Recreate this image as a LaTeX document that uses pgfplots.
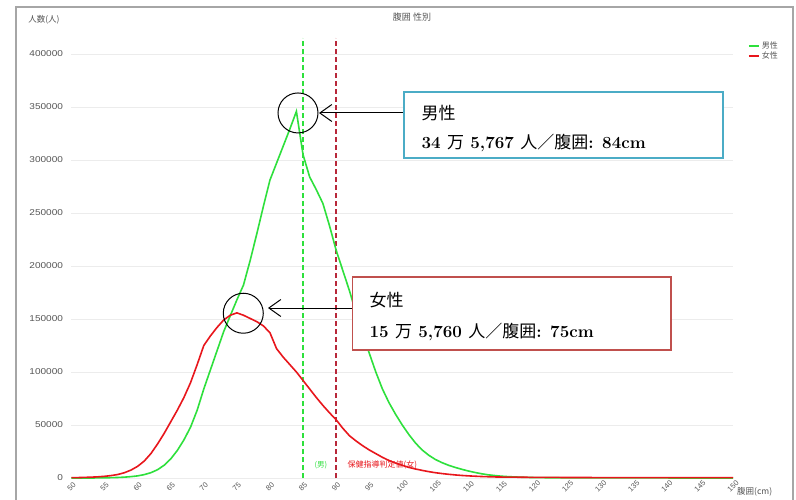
\documentclass[border=0pt]{standalone}
\usepackage{pgfplots}
\pgfplotsset{compat=1.18}
\usepackage{fontspec}
\usetikzlibrary{arrows.meta}
\newfontfamily\cjk{Noto Sans CJK JP}
\newfontfamily\sans[FakeStretch=1.18]{Liberation Sans}
\newfontfamily\sanx{Liberation Sans}
\definecolor{mgreen}{HTML}{2EE03C}
\definecolor{fred}{HTML}{E8161C}
\definecolor{dred}{HTML}{B8283A}
\definecolor{boxblue}{HTML}{4BACC6}
\definecolor{boxred}{HTML}{C0504D}
\definecolor{txtgray}{HTML}{555555}

\pgfplotstableread{
x m
50 0
51 0
52 0
53 0
54 100
55 200
56 300
57 500
58 800
59 1300
60 2000
61 3200
62 5000
63 7800
64 12000
65 18000
66 26000
67 36000
68 48000
69 64000
70 84000
71 102000
72 120000
73 138000
74 153000
75 168000
76 182000
77 205000
78 230000
79 256000
80 281000
81 297000
82 313000
83 329000
84 345767
85 305000
86 284000
87 272000
88 259000
89 238000
90 215000
91 196000
92 177000
93 156000
94 137000
95 118000
96 100000
97 84000
98 71000
99 60000
100 50000
101 41000
102 33000
103 26500
104 21500
105 17500
106 14500
107 12000
108 10000
109 8200
110 6600
111 5200
112 4000
113 3000
114 2300
115 1700
116 1300
117 1000
118 750
119 550
120 400
122 250
125 150
130 100
140 50
150 30
}\male

\pgfplotstableread{
x f
50 300
51 400
52 600
53 800
54 1100
55 1600
56 2300
57 3300
58 5000
59 7500
60 11000
61 16000
62 23000
63 32000
64 42000
65 53000
66 64000
67 76000
68 90000
69 107000
70 125000
71 134000
72 142000
73 149000
74 153500
75 155760
76 153500
77 150500
78 147500
79 143500
80 137000
81 122000
82 114000
83 107000
84 100000
85 92000
86 84000
87 76000
88 68500
89 61500
90 55000
91 47000
92 40000
93 35000
94 30500
95 26500
96 23000
97 19500
98 16500
99 14000
100 12000
101 10000
102 8500
103 7200
104 6000
105 5000
106 4200
107 3500
108 2900
109 2400
110 2000
111 1700
112 1400
113 1200
114 1000
115 900
120 600
130 400
140 300
150 300
}\female

\begin{document}
\begin{tikzpicture}[x=1pt,y=1pt]
\useasboundingbox (0,0) rectangle (796,499);
\fill[white] (0,0) rectangle (796,499);
\draw[gray!70, line width=1.2pt] (16,-5) -- (16,492) -- (793,492) -- (793,-5);
\begin{axis}[
 at={(71.5pt,21pt)}, anchor=south west,
 scale only axis, width=661.5pt, height=440pt,
 xmin=50, xmax=150, ymin=0, ymax=415000,
 axis line style={draw=none},
 ymajorgrids, grid style={gray!15, line width=0.8pt},
 xtick={50,55,...,150}, ytick={0,50000,100000,150000,200000,250000,300000,350000,400000},
 major tick length=0pt,
 scaled y ticks=false,
 /pgf/number format/fixed,
 /pgf/number format/precision=0,
 /pgf/number format/1000 sep={},
 /pgf/number format/assume math mode=true,
 yticklabel style={font=\sans\fontsize{8.5}{9}\selectfont, text=txtgray, xshift=-5pt},
 xticklabel style={font=\sanx\fontsize{7.5}{8}\selectfont, text=txtgray, anchor=center, yshift=-8.5pt, rotate=45, inner sep=0pt},
 clip=false,
 legend style={at={(1.022,0.997)}, anchor=north west, draw=none, fill=none, font=\cjk\fontsize{8}{9}\selectfont, text=txtgray, row sep=-2pt, inner sep=0pt},
 legend cell align=left,
 legend image code/.code={\draw[#1, line width=2pt] (0pt,0pt) -- (10pt,0pt);},
]
\addplot[mgreen, dash pattern=on 5pt off 3pt, line width=1.3pt, forget plot] coordinates {(85,0) (85,415000)};
\addplot[dred, dash pattern=on 5pt off 3pt, line width=1.3pt, forget plot] coordinates {(90,0) (90,415000)};
\addplot[mgreen, line width=1.6pt] table[x=x,y=m] {\male};
\addlegendentry{男性}
\addplot[fred, line width=1.6pt] table[x=x,y=f] {\female};
\addlegendentry{女性}
\node[text=mgreen, font=\cjk\fontsize{7.5}{8}\selectfont] at (axis cs:87.7,12300) {(男)};
\node[text=fred, anchor=west, font=\cjk\fontsize{8}{8}\selectfont] at (axis cs:91.2,12300) {保健指導判定値(女)};
\draw[black, line width=1pt] (axis cs:84.24,344300) circle [radius=20pt];
\draw[black, line width=1pt] (axis cs:75.97,155400) circle [radius=20pt];
\end{axis}
\node[font=\cjk\fontsize{8.5}{9}\selectfont, text=txtgray] at (44,479) {人数(人)};
\node[font=\cjk\fontsize{9}{10}\selectfont, text=txtgray] at (412,482) {腹囲\ 性別};
\node[anchor=west, font=\cjk\fontsize{8.5}{9}\selectfont, text=txtgray, inner sep=0pt] at (737,7) {腹囲(cm)};
% male annotation
\draw[-{Straight Barb[length=12pt,width=17pt]}, line width=1pt] (404,386) -- (319,386);
\draw[boxblue, line width=1.5pt, fill=white] (404,341) rectangle (723,407);
\node[anchor=west, font=\cjk\fontsize{17}{20}\selectfont] at (418,386) {男性};
\node[anchor=west, font=\fontsize{17}{20}\selectfont\bfseries] at (418,356) {34 {\cjk\mdseries 万} 5,767 {\cjk\mdseries 人／腹囲}: 84cm};
% female annotation
\draw[-{Straight Barb[length=12pt,width=17pt]}, line width=1pt] (352,191) -- (268,191);
\draw[boxred, line width=1.5pt, fill=white] (352.7,149) rectangle (671,222);
\node[anchor=west, font=\cjk\fontsize{17}{20}\selectfont] at (366,199) {女性};
\node[anchor=west, font=\fontsize{17}{20}\selectfont\bfseries] at (366,167) {15 {\cjk\mdseries 万} 5,760 {\cjk\mdseries 人／腹囲}: 75cm};
\end{tikzpicture}
\end{document}
